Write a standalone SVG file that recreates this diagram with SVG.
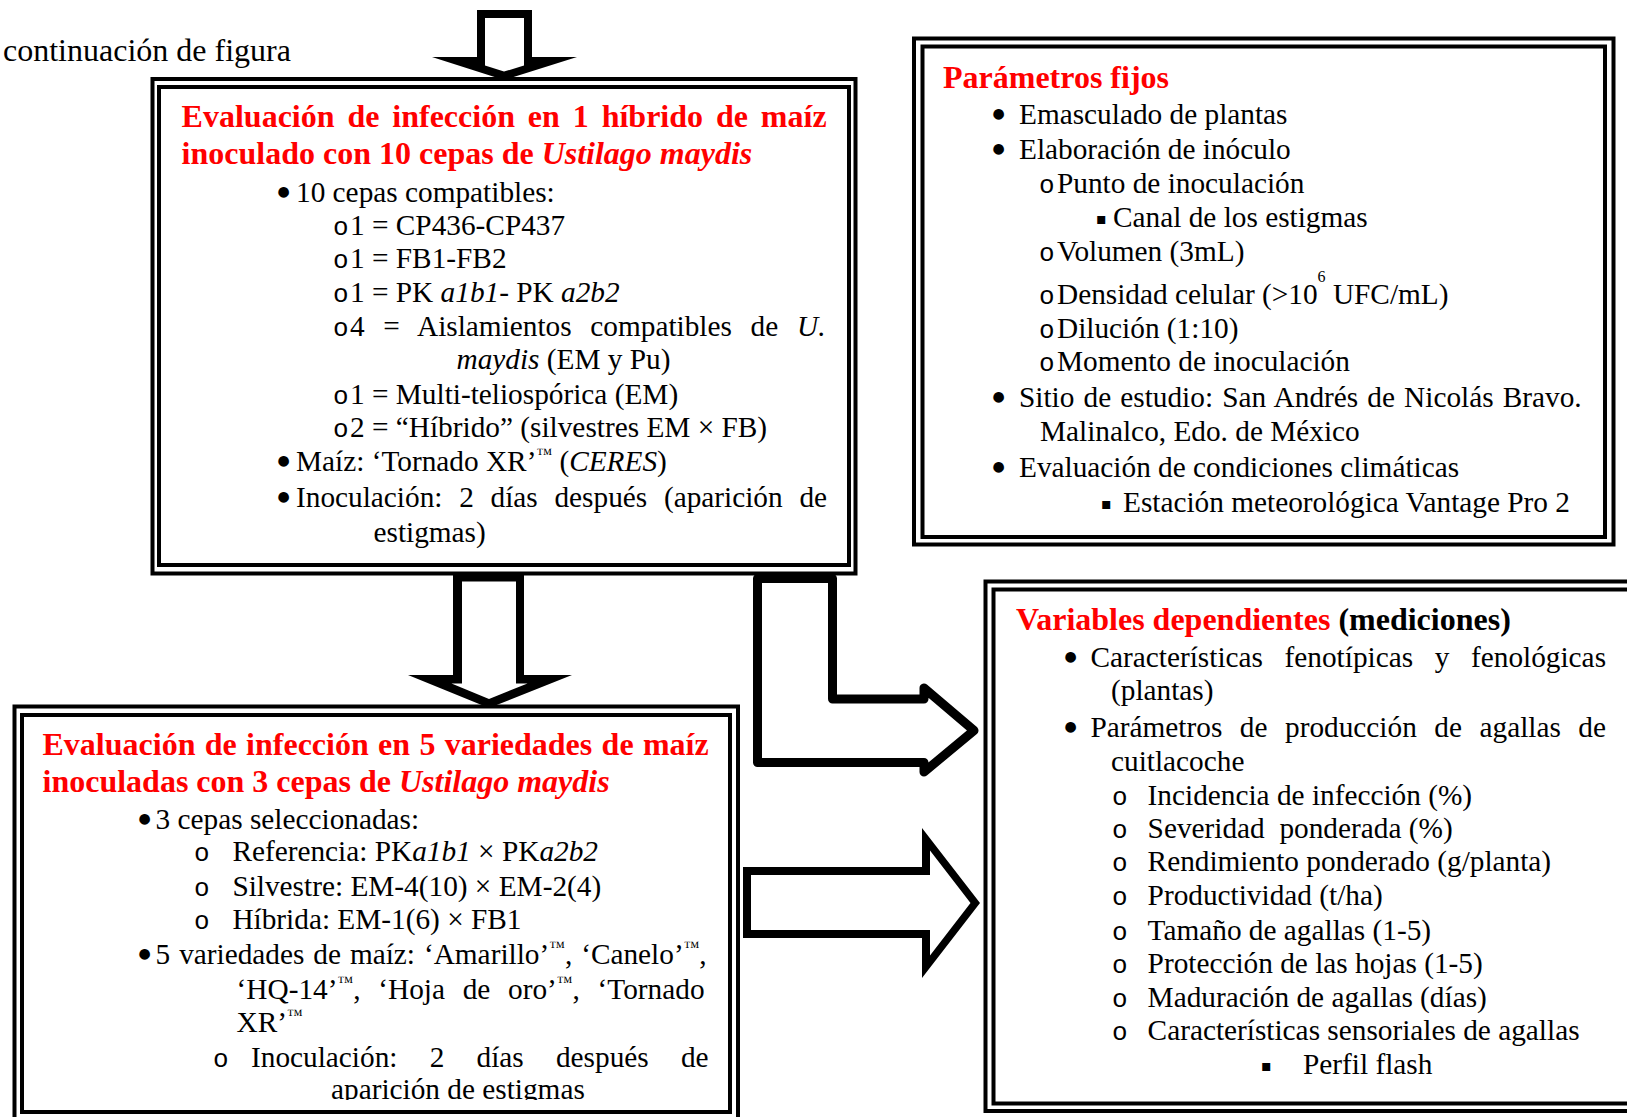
<svg xmlns="http://www.w3.org/2000/svg" width="1627" height="1117" viewBox="0 0 1627 1117">
  <defs>
    <style>
      .t { font-family: "Liberation Serif", "Times New Roman", serif; font-size: 29.3px; fill: #000; }
      .h { font-family: "Liberation Serif", "Times New Roman", serif; font-size: 32px; font-weight: bold; fill: #ff0000; }
      .lbl { font-family: "Liberation Serif", "Times New Roman", serif; font-size: 32px; fill: #000; }
      .i { font-style: italic; }
      .b { font-family: "DejaVu Sans", sans-serif; font-size: 14px; fill: #000; }
      .o { font-family: "Liberation Mono", "Courier New", monospace; font-size: 26px; }
      .sq { font-family: "DejaVu Sans", sans-serif; font-size: 16px; }
      .tm { font-size: 16px; }
      .frame { fill: none; stroke: #000; stroke-width: 4; }
      .blk { fill: #000; }
      .wht { fill: #fff; }
      .lpath { fill: none; stroke: #000; stroke-width: 9; stroke-linejoin: round; }
    </style>
    <clipPath id="cut4">
      <rect x="0" y="700" width="740" height="400"/>
    </clipPath>
  </defs>

  <rect width="1627" height="1117" fill="#fff"/>

  <text class="lbl" x="3" y="61">continuación de figura</text>

  <!-- Box 1: one hybrid, 10 strains -->
  <g id="box-hibrido">
    <rect class="frame" x="152.5" y="79" width="703" height="494.5"/>
    <rect class="frame" x="159" y="87" width="690" height="478"/>
    <text class="h" x="181.6" y="127" style="word-spacing:4.9px">Evaluación de infección en 1 híbrido de maíz</text>
    <text class="h" x="181.6" y="164">inoculado con 10 cepas de <tspan class="i">Ustilago maydis</tspan></text>
    <text class="b" x="277.5" y="195.5">●</text>
    <text class="t" x="296" y="202">10 cepas compatibles:</text>
    <text class="t o" x="333" y="235">o</text>
    <text class="t" x="350" y="235">1 = CP436-CP437</text>
    <text class="t o" x="333" y="268">o</text>
    <text class="t" x="350" y="268">1 = FB1-FB2</text>
    <text class="t o" x="333" y="302">o</text>
    <text class="t" x="350" y="302">1 = PK <tspan class="i">a1b1</tspan>- PK <tspan class="i">a2b2</tspan></text>
    <text class="t o" x="333" y="336">o</text>
    <text class="t" x="350" y="336" style="word-spacing:11.4px">4 = Aislamientos compatibles de <tspan class="i">U.</tspan></text>
    <text class="t" x="456.5" y="369"><tspan class="i">maydis</tspan> (EM y Pu)</text>
    <text class="t o" x="333" y="404">o</text>
    <text class="t" x="350" y="404">1 = Multi-teliospórica (EM)</text>
    <text class="t o" x="333" y="437">o</text>
    <text class="t" x="350" y="437">2 = “Híbrido” (silvestres EM × FB)</text>
    <text class="b" x="277.5" y="464.5">●</text>
    <text class="t" x="296" y="471">Maíz: ‘Tornado XR’<tspan class="tm" dy="-12">™</tspan><tspan dy="12"> (</tspan><tspan class="i">CERES</tspan>)</text>
    <text class="b" x="277.5" y="500.5">●</text>
    <text class="t" x="296" y="507" style="word-spacing:9.4px">Inoculación: 2 días después (aparición de</text>
    <text class="t" x="373.5" y="542">estigmas)</text>
  </g>

  <!-- Box 2: fixed parameters -->
  <g id="box-parametros">
    <rect class="frame" x="914" y="38.5" width="699.5" height="506"/>
    <rect class="frame" x="922.5" y="46.5" width="682.5" height="490.5"/>
    <text class="h" x="943" y="88">Parámetros fijos</text>
    <text class="b" x="992.5" y="117.5">●</text>
    <text class="t" x="1019" y="124">Emasculado de plantas</text>
    <text class="b" x="992.5" y="152.5">●</text>
    <text class="t" x="1019" y="159">Elaboración de inóculo</text>
    <text class="t o" x="1039" y="193">o</text>
    <text class="t" x="1057" y="193">Punto de inoculación</text>
    <text class="sq" x="1096" y="224">▪</text>
    <text class="t" x="1113" y="227">Canal de los estigmas</text>
    <text class="t o" x="1039" y="261">o</text>
    <text class="t" x="1057" y="261">Volumen (3mL)</text>
    <text class="t o" x="1039" y="304">o</text>
    <text class="t" x="1057" y="304">Densidad celular (&gt;10<tspan class="tm" dy="-22">6</tspan><tspan dy="22"> UFC/mL)</tspan></text>
    <text class="t o" x="1039" y="338">o</text>
    <text class="t" x="1057" y="338">Dilución (1:10)</text>
    <text class="t o" x="1039" y="371">o</text>
    <text class="t" x="1057" y="371">Momento de inoculación</text>
    <text class="b" x="992.5" y="400.5">●</text>
    <text class="t" x="1019" y="407" style="word-spacing:1.8px">Sitio de estudio: San Andrés de Nicolás Bravo.</text>
    <text class="t" x="1040" y="441">Malinalco, Edo. de México</text>
    <text class="b" x="992.5" y="470.5">●</text>
    <text class="t" x="1019" y="477">Evaluación de condiciones climáticas</text>
    <text class="sq" x="1101" y="509">▪</text>
    <text class="t" x="1123" y="512">Estación meteorológica Vantage Pro 2</text>
  </g>

  <!-- Box 3: dependent variables -->
  <g id="box-variables">
    <rect class="frame" x="985.5" y="581.5" width="660" height="529.5"/>
    <rect class="frame" x="993.5" y="589.5" width="640" height="514"/>
    <text class="h" x="1016" y="630">Variables dependientes<tspan fill="#000"> (mediciones)</tspan></text>
    <text class="b" x="1064.5" y="660.5">●</text>
    <text class="t" x="1090.5" y="667" style="word-spacing:14.3px">Características fenotípicas y fenológicas</text>
    <text class="t" x="1111" y="700">(plantas)</text>
    <text class="b" x="1064.5" y="730.5">●</text>
    <text class="t" x="1090.5" y="737" style="word-spacing:10.2px">Parámetros de producción de agallas de</text>
    <text class="t" x="1111" y="771">cuitlacoche</text>
    <text class="t o" x="1112" y="805">o</text>
    <text class="t" x="1147.6" y="805">Incidencia de infección (%)</text>
    <text class="t o" x="1112" y="838">o</text>
    <text class="t" x="1147.6" y="838" xml:space="preserve">Severidad  ponderada (%)</text>
    <text class="t o" x="1112" y="871">o</text>
    <text class="t" x="1147.6" y="871">Rendimiento ponderado (g/planta)</text>
    <text class="t o" x="1112" y="905">o</text>
    <text class="t" x="1147.6" y="905">Productividad (t/ha)</text>
    <text class="t o" x="1112" y="940">o</text>
    <text class="t" x="1147.6" y="940">Tamaño de agallas (1-5)</text>
    <text class="t o" x="1112" y="973">o</text>
    <text class="t" x="1147.6" y="973">Protección de las hojas (1-5)</text>
    <text class="t o" x="1112" y="1007">o</text>
    <text class="t" x="1147.6" y="1007">Maduración de agallas (días)</text>
    <text class="t o" x="1112" y="1040">o</text>
    <text class="t" x="1147.6" y="1040">Características sensoriales de agallas</text>
    <text class="sq" x="1261" y="1071">▪</text>
    <text class="t" x="1303" y="1074">Perfil flash</text>
  </g>

  <!-- Box 4: five varieties, 3 strains -->
  <g id="box-variedades">
    <rect class="frame" x="14.5" y="706.5" width="723.5" height="430"/>
    <rect class="frame" x="22" y="715" width="708" height="397"/>
    <text class="h" x="42.5" y="755" style="word-spacing:1.33px">Evaluación de infección en 5 variedades de maíz</text>
    <text class="h" x="42.5" y="792">inoculadas con 3 cepas de <tspan class="i">Ustilago maydis</tspan></text>
    <text class="b" x="138.5" y="822.5">●</text>
    <text class="t" x="155.6" y="829">3 cepas seleccionadas:</text>
    <text class="t o" x="194" y="861">o</text>
    <text class="t" x="232.4" y="861">Referencia: PK<tspan class="i">a1b1</tspan> × PK<tspan class="i">a2b2</tspan></text>
    <text class="t o" x="194" y="896">o</text>
    <text class="t" x="232.4" y="896">Silvestre: EM-4(10) × EM-2(4)</text>
    <text class="t o" x="194" y="929">o</text>
    <text class="t" x="232.4" y="929">Híbrida: EM-1(6) × FB1</text>
    <text class="b" x="138.5" y="957.5">●</text>
    <text class="t" x="155.6" y="964" style="word-spacing:1.6px">5 variedades de maíz: ‘Amarillo’<tspan class="tm" dy="-12">™</tspan><tspan dy="12">, ‘Canelo’</tspan><tspan class="tm" dy="-12">™</tspan><tspan dy="12">,</tspan></text>
    <text class="t" x="236.6" y="999" style="word-spacing:10.4px">‘HQ-14’<tspan class="tm" dy="-12">™</tspan><tspan dy="12">, ‘Hoja de oro’</tspan><tspan class="tm" dy="-12">™</tspan><tspan dy="12">, ‘Tornado</tspan></text>
    <text class="t" x="236.6" y="1032">XR’<tspan class="tm" dy="-12">™</tspan></text>
    <text class="t o" x="213" y="1067">o</text>
    <text class="t" x="251" y="1067" style="word-spacing:24.9px">Inoculación: 2 días después de</text>
    <text class="t" x="331" y="1099" clip-path="url(#cut4)">aparición de estigmas</text>
  </g>

  <!-- Block arrows between the boxes -->
  <g id="connectors">
    <polygon class="blk" points="477,10 532,10 532,57 577,57 504,80 432,57 477,57"/>
    <polygon class="wht" points="485,18 524,18 524,65.6 504,71.6 485,65.6"/>

    <polygon class="blk" points="453,573 524,573 524,675 572,675 489,708 408,675 453,675"/>
    <polygon class="wht" points="462,581.5 516,581.5 516,683.5 527.5,683.5 489,699 451.5,683.5 462,683.5"/>

    <path class="lpath" d="M757.5,578.5 L757.5,762.5 L924,762.5 L924,772 L974,730.5 L924,688 L924,699 L832.5,699 L832.5,578.5 Z"/>

    <polygon class="blk" points="743,867 922,867 922,828 980,903 922,978 922,938 743,938"/>
    <polygon class="wht" points="751,875 930,875 930,850.6 970.5,903 930,955.4 930,930 751,930"/>
  </g>
</svg>
